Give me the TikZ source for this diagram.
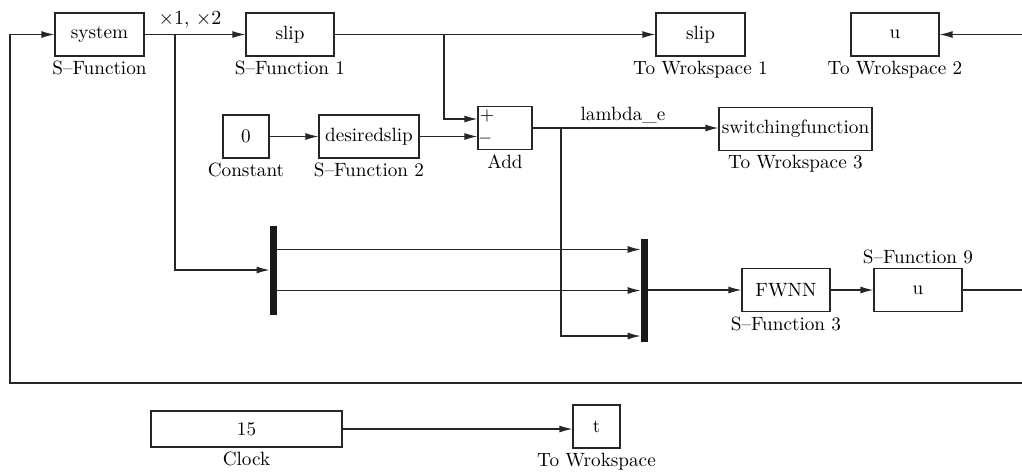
\documentclass[tikz,border=0pt]{standalone}
\usetikzlibrary{positioning}
\usetikzlibrary{arrows.meta}
\tikzset{
  blk/.style={draw=black!85, line width=0.6pt, minimum height=21.5pt, inner sep=1pt},
  bar/.style={fill=black!90, minimum width=3.5pt, inner sep=0pt},
  sig/.style={-{Latex[length=6.5pt,width=3.5pt]}, line width=0.6pt, draw=black!85},
  wire/.style={line width=0.6pt, draw=black!85},
  lbl/.style={inner sep=1pt}
}

\begin{document}
\begin{tikzpicture}[x=0.5pt,y=-0.5pt,font=\fontsize{9.6pt}{11pt}\selectfont]
\useasboundingbox (0,0) rectangle (1022,473);
\node[blk, minimum width=44.5pt] (sys) at (99.5,34.5) {system};
\node[blk, minimum width=44pt] (slip) at (290,34.5) {slip};
\node[blk, minimum width=44.5pt] (tow1) at (700.5,34.5) {slip};
\node[blk, minimum width=44pt] (tow2) at (895,34.5) {u};
\node[blk, minimum width=23pt] (const) at (246,136.5) {0};
\node[blk, minimum width=50pt] (dslip) at (369,136.5) {desiredslip};
\node[blk, minimum width=27pt] (add) at (505,128) {};
\node[blk, minimum width=76.5pt] (sw) at (795.5,129) {switchingfunction};
\node[bar, minimum height=44.5pt] (mux1) at (273.5,270) {};
\node[bar, minimum height=51.5pt] (mux2) at (644.5,290) {};
\node[blk, minimum width=44pt] (fwnn) at (786,290) {FWNN};
\node[blk, minimum width=44pt] (sf9) at (918,290) {u};
\node[blk, minimum width=95.5pt, minimum height=18pt] (clock) at (246.5,429) {15};
\node[blk, minimum width=23.5pt] (tow) at (596.5,426.5) {t};

\node[lbl, below=1pt of sys] (sysl) {S--Function};
\node[lbl, below=1pt of slip] (slipl) {S--Function 1};
\node[lbl, below=1pt of tow1] (tow1l) {To Wrokspace 1};
\node[lbl, below=1pt of tow2] (tow2l) {To Wrokspace 2};
\node[lbl, below=1pt of const] (constl) {Constant};
\node[lbl, below=1pt of dslip] (dslipl) {S--Function 2};
\node[lbl, below=1pt of add] (addl) {Add};
\node[lbl, below=1pt of sw] (swl) {To Wrokspace 3};
\node[lbl, below=1pt of fwnn] (fwnnl) {S--Function 3};
\node[lbl, above=1pt of sf9] (sf9l) {S--Function 9};
\node[lbl, below=1pt of clock] (clockl) {Clock};
\node[lbl, below=1pt of tow] (towl) {To Wrokspace};
\node[lbl] (xlab) at (190,20) {$\times 1$,\,\,$\times 2$};
\node[lbl] (lam) at (623,115) {lambda\_e};
\node[lbl, anchor=west, font=\small] (addp) at ([yshift=6pt]add.west) {$+$};
\node[lbl, anchor=west, font=\small] (addm) at ([yshift=-6.5pt]add.west) {\textbf{--}};

\coordinate (br1) at (175,34.5);
\coordinate (br2) at (444,34.5);
\coordinate (br3) at (561,128);
\coordinate (inU) at (1022,34.5);
\coordinate (outU) at (1022,290);
\coordinate (fbR) at (1022,383);
\coordinate (fbL) at (10,383);

\draw[sig] (sys.east) -- (slip.west);
\draw[sig] (slip.east) -- (tow1.west);
\draw[sig] (inU) -- (tow2.east);
\draw[sig] (br2) |- ([yshift=4.5pt]add.west);
\draw[sig] (const.east) -- (dslip.west);
\draw[sig] (dslip.east) -- (dslip.east -| add.west);
\draw[sig] (add.east) -- (add.east -| sw.west);
\draw[sig] (br1) |- (mux1.west);
\draw[sig] ([yshift=10.25pt]mux1.east) -- ([yshift=10.25pt]mux1.east -| mux2.west);
\draw[sig] ([yshift=-10.25pt]mux1.east) -- ([yshift=-10.25pt]mux1.east -| mux2.west);
\draw[sig] (br3) |- ([yshift=-23pt]mux2.west);
\draw[sig] (mux2.east) -- (fwnn.west);
\draw[sig] (fwnn.east) -- (sf9.west);
\draw[wire] (sf9.east) -- (outU);
\draw[sig] (fbR) -- (fbL) |- (sys.west);
\draw[sig] (clock.east) -- (clock.east -| tow.west);
\end{tikzpicture}
\end{document}
